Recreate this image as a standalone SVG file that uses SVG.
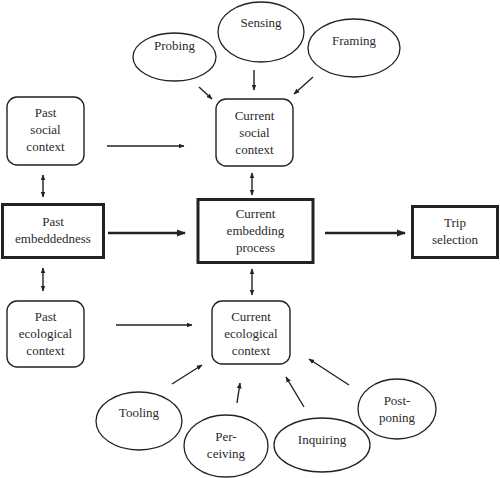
<svg xmlns="http://www.w3.org/2000/svg" width="500" height="478" viewBox="0 0 500 478" font-family="'Liberation Serif', 'DejaVu Serif', serif">
<defs>
<style>
text{font-family:'Liberation Serif','DejaVu Serif',serif;font-size:13px;fill:#2a2a2a;text-anchor:middle}
.r{fill:#fff;stroke:#222;stroke-width:1.4}
.b{fill:#fff;stroke:#222;stroke-width:3}
.e{fill:#fff;stroke:#222;stroke-width:1.3}
.c{stroke:#222;stroke-width:1.4;fill:none}
.t{stroke:#222;stroke-width:2.6;fill:none}
</style>
<marker id="a" viewBox="0 0 10 10" refX="9" refY="5" markerWidth="6" markerHeight="6" orient="auto-start-reverse" markerUnits="userSpaceOnUse"><path d="M0,1 L10,5 L0,9 z" fill="#222"/></marker>
<marker id="at" viewBox="0 0 10 10" refX="9" refY="5" markerWidth="9" markerHeight="9" orient="auto" markerUnits="userSpaceOnUse"><path d="M0,1 L10,5 L0,9 z" fill="#222"/></marker>
</defs>
<g id="connectors">
<line class="c" x1="107" y1="146" x2="184" y2="146" marker-end="url(#a)"/>
<line class="c" x1="199" y1="87" x2="212" y2="99" marker-end="url(#a)"/>
<line class="c" x1="254" y1="70" x2="254" y2="90" marker-end="url(#a)"/>
<line class="c" x1="313" y1="77" x2="294" y2="94" marker-end="url(#a)"/>
<line class="c" x1="43" y1="175" x2="43" y2="197" marker-start="url(#a)" marker-end="url(#a)"/>
<line class="c" x1="252" y1="173" x2="252" y2="195" marker-start="url(#a)" marker-end="url(#a)"/>
<line class="t" x1="108" y1="233" x2="185" y2="233" marker-end="url(#at)"/>
<line class="t" x1="325" y1="233" x2="405" y2="233" marker-end="url(#at)"/>
<line class="c" x1="43" y1="268" x2="43" y2="291" marker-start="url(#a)" marker-end="url(#a)"/>
<line class="c" x1="252" y1="269" x2="252" y2="295" marker-start="url(#a)" marker-end="url(#a)"/>
<line class="c" x1="116" y1="325" x2="192" y2="325" marker-end="url(#a)"/>
<line class="c" x1="172" y1="384" x2="202" y2="365" marker-end="url(#a)"/>
<line class="c" x1="237" y1="403" x2="240" y2="383" marker-end="url(#a)"/>
<line class="c" x1="304" y1="407" x2="286" y2="377" marker-end="url(#a)"/>
<line class="c" x1="349" y1="385" x2="309" y2="359" marker-end="url(#a)"/>
</g>
<g id="probing"><ellipse class="e" cx="174.5" cy="57" rx="41.5" ry="24"/><text x="174.5" y="50">Probing</text></g>
<g id="sensing"><ellipse class="e" cx="261" cy="32" rx="43" ry="30"/><text x="261" y="27">Sensing</text></g>
<g id="framing"><ellipse class="e" cx="354" cy="48" rx="46" ry="29"/><text x="354" y="45">Framing</text></g>
<g id="current-social"><rect class="r" x="216" y="99" width="77" height="67" rx="10"/><text x="254.5" y="120">Current</text><text x="254.5" y="137">social</text><text x="254.5" y="154">context</text></g>
<g id="past-social"><rect class="r" x="7" y="97" width="77" height="68" rx="10"/><text x="45.5" y="117">Past</text><text x="45.5" y="134">social</text><text x="45.5" y="151">context</text></g>
<g id="past-embeddedness"><rect class="b" x="2.5" y="204.5" width="101" height="53"/><text x="53" y="226">Past</text><text x="53" y="243">embeddedness</text></g>
<g id="current-embedding"><rect class="b" x="198" y="199.5" width="115" height="63"/><text x="255.5" y="218">Current</text><text x="255.5" y="235">embedding</text><text x="255.5" y="252">process</text></g>
<g id="trip-selection"><rect class="b" x="412.5" y="206.5" width="85" height="51"/><text x="455" y="227">Trip</text><text x="455" y="244">selection</text></g>
<g id="past-ecological"><rect class="r" x="7" y="301" width="77" height="66" rx="10"/><text x="45.5" y="321">Past</text><text x="45.5" y="338">ecological</text><text x="45.5" y="355">context</text></g>
<g id="current-ecological"><rect class="r" x="212" y="301" width="78" height="63" rx="10"/><text x="251" y="321">Current</text><text x="251" y="338">ecological</text><text x="251" y="355">context</text></g>
<g id="tooling"><ellipse class="e" cx="139" cy="421" rx="43" ry="29"/><text x="139" y="417">Tooling</text></g>
<g id="perceiving"><ellipse class="e" cx="226" cy="446" rx="42" ry="31"/><text x="226" y="441">Per-</text><text x="226" y="458">ceiving</text></g>
<g id="inquiring"><ellipse class="e" cx="322" cy="445" rx="48" ry="27"/><text x="322" y="444">Inquiring</text></g>
<g id="postponing"><ellipse class="e" cx="397" cy="409" rx="39" ry="30"/><text x="397" y="405">Post-</text><text x="397" y="422">poning</text></g>
</svg>
